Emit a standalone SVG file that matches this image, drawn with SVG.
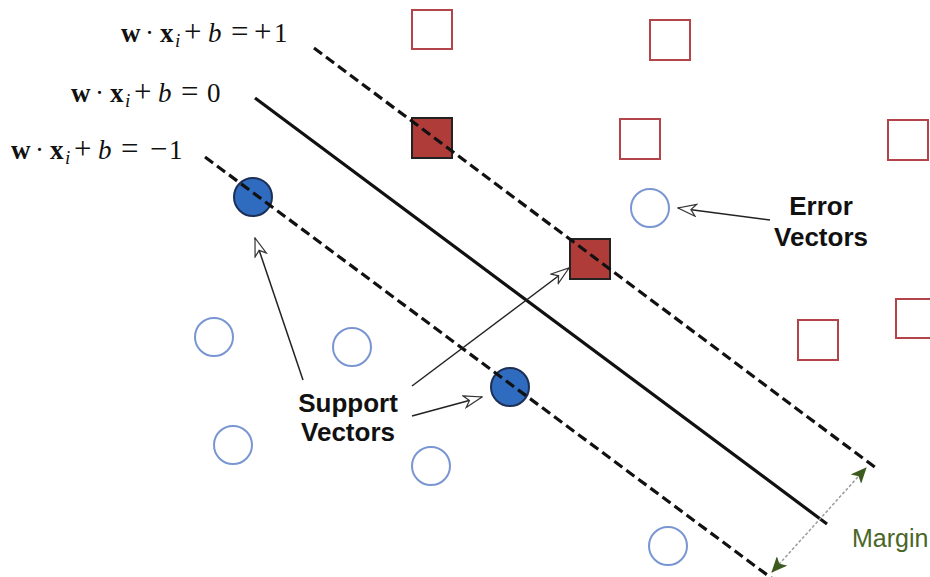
<svg xmlns="http://www.w3.org/2000/svg" width="930" height="577" viewBox="0 0 930 577">
<style>
.eq{font-family:"Liberation Serif","Times New Roman",serif;font-size:27px;fill:#111}
.bf{font-weight:bold}
.it{font-style:italic}
.op{font-size:31px}
.lbl{font-family:"Liberation Sans",Arial,sans-serif;font-size:26px;font-weight:bold;fill:#111}
.mg{font-family:"Liberation Sans",Arial,sans-serif;font-size:25px;fill:#4a6628}
.sqo{fill:#fff;stroke:#b2444a;stroke-width:2}
.sqf{fill:#b03c3a;stroke:#222;stroke-width:2}
.cio{fill:#fff;stroke:#7a96d2;stroke-width:2}
.cif{fill:#2f6bbf;stroke:#1c2f55;stroke-width:2}
.dash{stroke:#111;stroke-width:3.2;stroke-dasharray:10,5;fill:none}
.solid{stroke:#111;stroke-width:3.2;fill:none}
.ptr{stroke:#222;stroke-width:1.5;fill:none;marker-end:url(#open)}
</style>
<defs>
<marker id="open" viewBox="0 0 20 14" refX="19" refY="7" markerWidth="20" markerHeight="14" markerUnits="userSpaceOnUse" orient="auto">
<path d="M1,1 L19,7 L1,13 L6,7 Z" fill="#fff" stroke="#333" stroke-width="1.2"/>
</marker>
<marker id="green" viewBox="0 0 16 14" refX="15" refY="7" markerWidth="16" markerHeight="14" markerUnits="userSpaceOnUse" orient="auto-start-reverse">
<path d="M0,0 L16,7 L0,14 L4,7 Z" fill="#3d5a1e"/>
</marker>
</defs>
<rect width="930" height="577" fill="#fff"/>

<g id="equations">
<text class="eq" y="42"><tspan class="bf" x="121">w</tspan><tspan x="145">·</tspan><tspan class="bf" x="160">x</tspan><tspan class="it" x="175" dy="5" font-size="19">i</tspan><tspan class="op" x="184" dy="-5">+</tspan><tspan class="it" x="208">b</tspan><tspan class="op" x="231">=</tspan><tspan class="op" x="254">+</tspan><tspan x="274">1</tspan></text>
<text class="eq" y="102"><tspan class="bf" x="71">w</tspan><tspan x="95">·</tspan><tspan class="bf" x="110">x</tspan><tspan class="it" x="125" dy="5" font-size="19">i</tspan><tspan class="op" x="134" dy="-5">+</tspan><tspan class="it" x="158">b</tspan><tspan class="op" x="181">=</tspan><tspan x="207">0</tspan></text>
<text class="eq" y="159"><tspan class="bf" x="11">w</tspan><tspan x="35">·</tspan><tspan class="bf" x="50">x</tspan><tspan class="it" x="65" dy="5" font-size="19">i</tspan><tspan class="op" x="74" dy="-5">+</tspan><tspan class="it" x="98">b</tspan><tspan class="op" x="121">=</tspan><tspan class="op" x="150">−</tspan><tspan x="169">1</tspan></text>
</g>

<g id="squares">
<rect class="sqo" x="412" y="10" width="40" height="39"/>
<rect class="sqo" x="650" y="20" width="40" height="40"/>
<rect class="sqo" x="620" y="119" width="40" height="40"/>
<rect class="sqo" x="888" y="120" width="40" height="40"/>
<rect class="sqo" x="798" y="320" width="40" height="40"/>
<rect class="sqo" x="896" y="299" width="40" height="39"/>
</g>
<g id="support-squares">
<rect class="sqf" x="412" y="118" width="40" height="40"/>
<rect class="sqf" x="570" y="239" width="40" height="40"/>
</g>
<g id="circles">
<circle class="cio" cx="650" cy="208" r="19"/>
<circle class="cio" cx="214" cy="337" r="19"/>
<circle class="cio" cx="352" cy="347" r="19"/>
<circle class="cio" cx="233" cy="445" r="19"/>
<circle class="cio" cx="431" cy="466" r="19"/>
<circle class="cio" cx="668" cy="546" r="19"/>
</g>
<g id="support-circles">
<circle class="cif" cx="253" cy="197" r="19"/>
<circle class="cif" cx="510" cy="387" r="19"/>
</g>

<g id="connectors">
<line class="dash" x1="314" y1="48" x2="876" y2="468"/>
<line class="solid" x1="255" y1="98" x2="827" y2="524"/>
<line class="dash" x1="205" y1="157" x2="774" y2="580"/>
<line class="ptr" x1="303" y1="380" x2="255" y2="238"/>
<line class="ptr" x1="412" y1="386" x2="569" y2="268"/>
<line class="ptr" x1="412" y1="416" x2="482" y2="397"/>
<line class="ptr" x1="770" y1="220" x2="678" y2="208"/>
<line x1="772" y1="572" x2="866" y2="468" stroke="#9a9a9a" stroke-width="1.5" stroke-dasharray="3,2" marker-start="url(#green)" marker-end="url(#green)"/>
</g>

<g id="labels">
<text class="lbl" x="821" y="215" text-anchor="middle">Error</text>
<text class="lbl" x="821" y="246" text-anchor="middle">Vectors</text>
<text class="lbl" x="348" y="412" text-anchor="middle">Support</text>
<text class="lbl" x="348" y="441" text-anchor="middle">Vectors</text>
<text class="mg" x="852" y="547">Margin</text>
</g>
</svg>
